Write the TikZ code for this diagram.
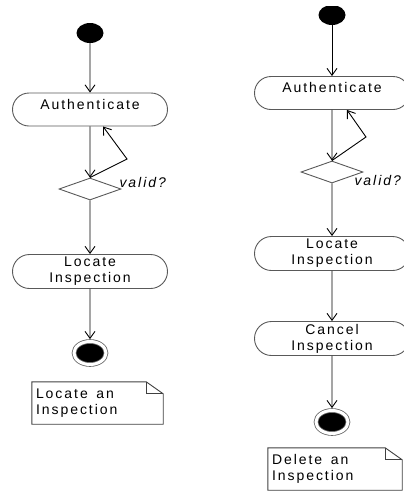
\documentclass[tikz,border=0pt]{standalone}
\usepackage{fontspec}
\newfontfamily\umlfont[LetterSpace=14]{Liberation Sans}
\usetikzlibrary{shapes.misc,shapes.geometric,arrows.meta}

\begin{document}
\begin{tikzpicture}[x=1pt,y=-1pt,
    font=\umlfont\fontsize{14}{16}\selectfont,
    activity/.style={rounded rectangle,draw=black!65,line width=0.9pt,
        minimum width=155pt,inner sep=0pt,align=center},
    oneline/.style={minimum height=33pt,text height=16pt,text depth=17pt},
    twoline/.style={minimum height=34pt},
    decision/.style={diamond,draw=black!65,line width=0.9pt,
        minimum width=62pt,minimum height=22pt,inner sep=0pt},
    initial/.style={ellipse,fill=black,minimum width=27pt,
        minimum height=20pt,inner sep=0pt},
    final/.style={ellipse,draw=black!60,fill=black,double=white,
        double distance=3pt,line width=0.8pt,minimum width=32pt,
        minimum height=23pt,inner sep=0pt},
    note/.style={inner xsep=4pt,minimum height=42pt,align=left},
    flow/.style={->,>={Straight Barb[length=7pt,width=10pt]},line width=0.9pt}]
    \useasboundingbox (0,0) rectangle (404,491);
    \clip (0,6.5) rectangle (404,491);

    % locate an inspection
    \node[initial] (startL) at (90,33) {};
    \node[activity,oneline] (authL) at (90,109.5) {Authenticate};
    \node[decision] (decL) at (90,189) {};
    \node[anchor=base west,font=\umlfont\itshape\fontsize{14}{16}\selectfont] (validL) at (116,187) {valid?};
    \node[activity,twoline] (locL) at (90,271.5) {Locate\\Inspection};
    \node[final] (endL) at (90,353) {};
    \node[note,text width=123pt] (noteL) at (97.5,403) {Locate\hspace{4pt} an\\Inspection};
    \coordinate (bendL) at (127,159);

    % delete an inspection
    \node[initial] (startR) at (332,15) {};
    \node[activity,oneline] (authR) at (332,93) {Authenticate};
    \node[decision] (decR) at (332,172) {};
    \node[anchor=base west,font=\umlfont\itshape\fontsize{14}{16}\selectfont] (validR) at (351,185) {valid?};
    \node[activity,twoline] (locR) at (332,253.5) {Locate\\Inspection};
    \node[activity,twoline] (canR) at (332,338.5) {Cancel\\Inspection};
    \node[final] (endR) at (332,422) {};
    \node[note,text width=126pt] (noteR) at (335,469) {Delete\hspace{4pt} an\\Inspection};
    \coordinate (bendR) at (366,137);

    \begin{scope}[flow]
        \draw (startL) -- (authL);
        \draw (authL) -- (decL);
        \draw (decL.north) -- (bendL) -- ([xshift=13pt]authL.south);
        \draw (decL) -- (locL);
        \draw[shorten >=2pt] (locL) -- (endL);

        \draw (startR) -- (authR);
        \draw (authR) -- (decR);
        \draw (decR.north) -- (bendR) -- ([xshift=15pt]authR.south);
        \draw (decR) -- (locR);
        \draw (locR) -- (canR);
        \draw[shorten >=2pt] (canR) -- (endR);
    \end{scope}

    % notes with folded corner
    \foreach \n in {noteL,noteR} {
        \draw[black!75,line width=0.9pt] (\n.north west) -- ([xshift=-17pt]\n.north east)
            -- ([yshift=-12pt]\n.north east) -- (\n.south east) -- (\n.south west) -- cycle;
        \draw[black!75,line width=0.8pt] ([xshift=-17pt]\n.north east)
            -- ([xshift=-17pt,yshift=-12pt]\n.north east) -- ([yshift=-12pt]\n.north east);
    }
\end{tikzpicture}
\end{document}
